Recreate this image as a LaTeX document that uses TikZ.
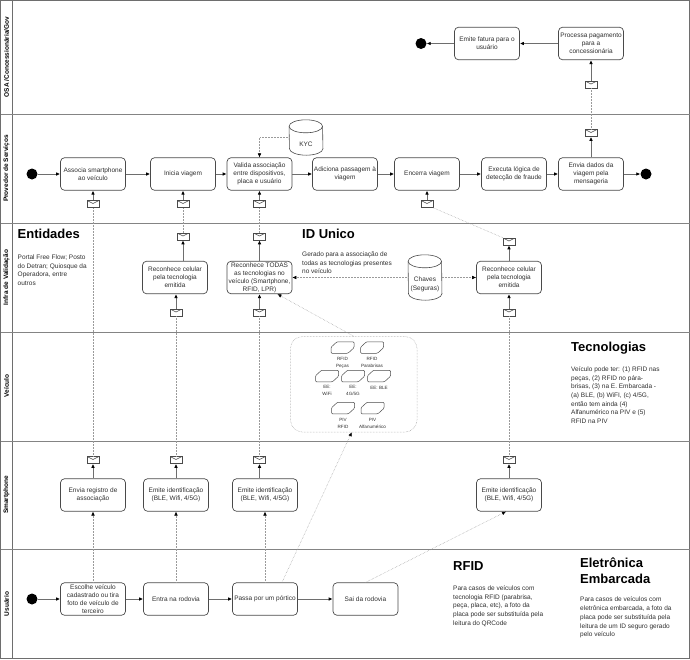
\documentclass[tikz,border=0pt]{standalone}
\usepackage{fontspec}
\setmainfont{Liberation Sans}
\usetikzlibrary{arrows.meta}
\definecolor{lanecol}{HTML}{6E6E6E}
\definecolor{linecol}{HTML}{4A4A4A}
\definecolor{dotcol}{HTML}{9A9A9A}
\definecolor{txtcol}{HTML}{2E2E2E}
\tikzset{
	lanetxt/.style={rotate=90, inner sep=0, font=\fontsize{6.5}{8}\selectfont\bfseries},
	taskbox/.style={draw=linecol, text=txtcol, line width=0.7pt, rounded corners=4pt, minimum width=65pt, minimum height=32.5pt, inner sep=0.5pt, align=center, font=\fontsize{6.5}{8}\selectfont},
	ball/.style={circle, fill=black, minimum size=11pt, inner sep=0},
	msgicon/.style={draw=linecol, line width=0.6pt, fill=white, minimum width=12pt, minimum height=7pt, inner sep=0,
		path picture={\draw[line width=0.5pt] (path picture bounding box.north west) -- ([yshift=-3pt]path picture bounding box.north) -- (path picture bounding box.north east);}},
	flow/.style={draw=lanecol, line width=0.8pt, -{Latex[black, length=4pt, width=3.6pt]}},
	msgflow/.style={draw=dotcol, line width=0.5pt, densely dotted, -{Latex[black, length=4pt, width=3.6pt]}},
	msgline/.style={draw=dotcol, line width=0.5pt, densely dotted},
	heading/.style={anchor=west, inner sep=0, align=left, font=\fontsize{13}{16}\selectfont\bfseries},
	bodytxt/.style={anchor=north west, text=txtcol, inner sep=0, align=left, font=\fontsize{6.5}{8.7}\selectfont},
	store/.style={text=txtcol, minimum width=33.5pt, inner sep=0, align=center, font=\fontsize{6.5}{8.7}\selectfont},
	storeline/.style={draw=linecol, line width=0.6pt},
	chipline/.style={draw=linecol, line width=0.5pt, rounded corners=1pt},
	chiptxt/.style={text=txtcol, inner sep=0, align=center, font=\fontsize{4.6}{6.8}\selectfont},
}
% cylinder outline round a named node
\newcommand{\storeshape}[1]{
	\draw[storeline] ([yshift=-6.5pt]#1.north west) arc[start angle=180, end angle=0, x radius=16.75pt, y radius=6.5pt] -- ([yshift=6.5pt]#1.south east) arc[start angle=0, end angle=-180, x radius=16.75pt, y radius=6.5pt] -- cycle;
	\draw[storeline] ([yshift=-6.5pt]#1.north west) arc[start angle=180, end angle=360, x radius=16.75pt, y radius=6.5pt];
}
\begin{document}
\begin{tikzpicture}[x=1pt, y=-1pt]
	\useasboundingbox (0,0) rectangle (690,659);
	% lanes
	\draw[lanecol, line width=1pt] (0.5,0.5) rectangle (689.5,658.5);
	\draw[lanecol, line width=1pt] (12.5,0.5) -- (12.5,658.5);
	\foreach \ypos in {114,223,332,441,549.5}
		\draw[lanecol!85, line width=1pt] (0.5,\ypos) -- (689.5,\ypos);
	\foreach \ypos/\lanename/\lanetag in {57/{OSA /Concessionária/Gov}/osa, 168.5/Provedor de Serviços/prov, 277.5/Infra de Validação/infra, 386/Veículo/veic, 495/Smartphone/smart, 604/Usuário/user}
		\node[lanetxt] (lane\lanetag) at (6.5,\ypos) {\lanename};

	% osa
	\node[ball] (endosa) at (421,43.5) {};
	\node[taskbox] (fatura) at (487,43.5) {Emite fatura para o\\usuário};
	\node[taskbox] (pagamento) at (591,43.5) {Processa pagamento\\para a\\concessionária};
	\node[msgicon] (mpagamento) at (591,84.5) {};

	% provedor
	\node[ball] (startprov) at (32,174) {};
	\node[taskbox] (associa) at (93,174) {Associa smartphone\\ao veículo};
	\node[taskbox] (inicia) at (183,174) {Inicia viagem};
	\node[taskbox] (valida) at (259.5,174) {Valida associação\\entre dispositivos,\\placa e usuário};
	\node[taskbox] (adiciona) at (345,174) {Adiciona passagem à\\viagem};
	\node[taskbox] (encerra) at (427,174) {Encerra viagem};
	\node[taskbox] (fraude) at (514,174) {Executa lógica de\\detecção de fraude};
	\node[taskbox] (dados) at (591,174) {Envia dados da\\viagem pela\\mensageria};
	\node[ball] (endprov) at (646,174) {};
	\node[store, minimum height=35pt] (kyc) at (306,137.5) {\rule{0pt}{18pt}KYC};
	\storeshape{kyc}
	\node[msgicon] (massocia) at (93,204) {};
	\node[msgicon] (minicia) at (183,204) {};
	\node[msgicon] (mvalida) at (259.5,204) {};
	\node[msgicon] (mencerra) at (427,204) {};
	\node[msgicon] (mdados) at (591,133) {};

	% infra
	\node[heading] (entidades) at (17.5,234) {Entidades};
	\node[bodytxt] (entidadestxt) at (17.5,254.5) {Portal Free Flow; Posto\\do Detran; Quiosque da\\Operadora, entre\\outros};
	\node[heading] (idunico) at (302,234) {ID Unico};
	\node[bodytxt] (idunicotxt) at (302,251.5) {Gerado para a associação de\\todas as tecnologias presentes\\no veículo};
	\node[taskbox] (celular) at (175,277.5) {Reconhece celular\\pela tecnologia\\emitida};
	\node[taskbox] (todas) at (259.5,277.5) {Reconhece TODAS\\as tecnologias no\\veículo (Smartphone,\\RFID, LPR)};
	\node[store, minimum height=45pt] (chaves) at (425,277.5) {\rule{0pt}{18pt}Chaves\\(Seguras)};
	\storeshape{chaves}
	\node[taskbox] (celulardir) at (509,277.5) {Reconhece celular\\pela tecnologia\\emitida};
	\node[msgicon] (mcelularup) at (183,236.5) {};
	\node[msgicon] (mtodasup) at (259.5,236.5) {};
	\node[msgicon] (mdirup) at (509,241.5) {};
	\node[msgicon] (mcelularin) at (176,312.5) {};
	\node[msgicon] (mtodasin) at (259.5,312.5) {};
	\node[msgicon] (mdirin) at (509,312.5) {};

	% veiculo
	\node[draw=dotcol, line width=0.5pt, densely dotted, rounded corners=12pt, minimum width=126.5pt, minimum height=95.5pt, inner sep=0] (techbox) at (353.75,384.25) {};
	\foreach \cx/\cy in {342.5/347.5, 372/347.5, 327/376, 353/376, 379/376, 343/408, 372.5/408}
		\draw[chipline] (\cx,\cy) ++(-11.5,5.75) -- ++(0,-6) -- ++(6,-5.5) -- ++(17,0) -- ++(0,6) -- ++(-6,5.5) -- cycle;
	\node[chiptxt] (txtpecas) at (342.5,362.5) {RFID\\Peças};
	\node[chiptxt] (txtpara) at (372,362.5) {RFID\\Parabrisas};
	\node[chiptxt] (txtwifi) at (327,390.5) {EE:\\WiFi};
	\node[chiptxt] (txt4g) at (353,390.5) {EE:\\4G/5G};
	\node[chiptxt] (txtble) at (379,387.5) {EE: BLE};
	\node[chiptxt] (txtpivr) at (343,423.5) {PIV\\RFID};
	\node[chiptxt] (txtpiva) at (372.5,423.5) {PIV\\Alfanumérico};
	\node[heading] (tecnologias) at (571,348) {Tecnologias};
	\node[bodytxt] (tecnologiastxt) at (571,366.5) {Veículo pode ter: (1) RFID nas\\peças, (2) RFID no pára-\\brisas, (3) na E. Embarcada -\\(a) BLE, (b) WiFI, (c) 4/5G,\\então tem ainda (4)\\Alfanumérico na PIV e (5)\\RFID na PIV};

	% smartphone
	\node[taskbox] (registro) at (93,495) {Envia registro de\\associação};
	\node[taskbox] (emiteum) at (176,495) {Emite identificação\\(BLE, Wifi, 4/5G)};
	\node[taskbox] (emitedois) at (265,495) {Emite identificação\\(BLE, Wifi, 4/5G)};
	\node[taskbox] (emitetres) at (509,495) {Emite identificação\\(BLE, Wifi, 4/5G)};
	\node[msgicon] (mregistro) at (93,460) {};
	\node[msgicon] (memiteum) at (176,460) {};
	\node[msgicon] (memitedois) at (259.5,460) {};
	\node[msgicon] (memitetres) at (509,460) {};

	% usuario
	\node[ball] (startuser) at (32,599) {};
	\node[taskbox] (escolhe) at (93,599) {Escolhe veículo\\cadastrado ou tira\\foto de veículo de\\terceiro};
	\node[taskbox] (entra) at (176,599) {Entra na rodovia};
	\node[taskbox] (passa) at (265,599) {Passa por um pórtico};
	\node[taskbox] (sai) at (365.5,599) {Sai da rodovia};
	\node[heading] (rfid) at (453,566) {RFID};
	\node[bodytxt] (rfidtxt) at (453,585.5) {Para casos de veículos com\\tecnologia RFID (parabrisa,\\peça, placa, etc), a foto da\\placa pode ser substituída pela\\leitura do QRCode};
	\node[heading] (eletronica) at (580,571) {Eletrônica\\Embarcada};
	\node[bodytxt] (eletronicatxt) at (580,597) {Para casos de veículos com\\eletrônica embarcada, a foto da\\placa pode ser substituída pela\\leitura de um ID seguro gerado\\pelo veículo};

	% sequence
	\draw[flow] (pagamento) -- (fatura);
	\draw[flow] (fatura) -- (endosa);
	\draw[flow] (startprov) -- (associa);
	\draw[flow] (associa) -- (inicia);
	\draw[flow] (inicia) -- (valida);
	\draw[flow] (valida) -- (adiciona);
	\draw[flow] (adiciona) -- (encerra);
	\draw[flow] (encerra) -- (fraude);
	\draw[flow] (fraude) -- (dados);
	\draw[flow] (dados) -- (endprov);
	\draw[flow] (startuser) -- (escolhe);
	\draw[flow] (escolhe) -- (entra);
	\draw[flow] (entra) -- (passa);
	\draw[flow] (passa) -- (sai);

	% message icons
	\draw[flow] (massocia) -- (associa);
	\draw[flow] (minicia) -- (inicia);
	\draw[flow] (mvalida) -- (valida);
	\draw[flow] (mencerra) -- (encerra);
	\draw[flow] (dados) -- (mdados);
	\draw[flow] (mpagamento) -- (pagamento);
	\draw[flow] (celular.north -| mcelularup) -- (mcelularup);
	\draw[flow] (todas) -- (mtodasup);
	\draw[flow] (celulardir) -- (mdirup);
	\draw[flow] (mcelularin) -- (celular.south -| mcelularin);
	\draw[flow] (mtodasin) -- (todas);
	\draw[flow] (mdirin) -- (celulardir);
	\draw[flow] (registro) -- (mregistro);
	\draw[flow] (emiteum) -- (memiteum);
	\draw[flow] (emitedois.north -| memitedois) -- (memitedois);
	\draw[flow] (emitetres) -- (memitetres);

	% dotted messages
	\draw[msgline] (mdados) -- (mpagamento);
	\draw[msgline] (mregistro) -- (massocia);
	\draw[msgline] (memiteum) -- (mcelularin);
	\draw[msgline] (mcelularup) -- (minicia);
	\draw[msgline] (memitedois) -- (mtodasin);
	\draw[msgline] (mtodasup) -- (mvalida);
	\draw[msgline] (memitetres) -- (mdirin);
	\draw[msgline] (mdirup.north west) -- (mencerra.south east);
	\draw[msgflow] (escolhe) -- (registro);
	\draw[msgflow] (entra) -- (emiteum);
	\draw[msgflow] (passa) -- (emitedois);
	\draw[msgflow] ([xshift=17pt]passa.north) -- ([xshift=-2pt]techbox.south);
	\draw[msgflow] (sai.north) -- ([xshift=-3pt]emitetres.south);
	\draw[msgflow] (techbox.north) -- ([xshift=18pt]todas.south);
	\draw[msgflow] (chaves.west) -- (todas);
	\draw[msgflow] (chaves.east) -- (celulardir);
	\draw[msgflow] (kyc.west) -| (valida.north);
\end{tikzpicture}
\end{document}
